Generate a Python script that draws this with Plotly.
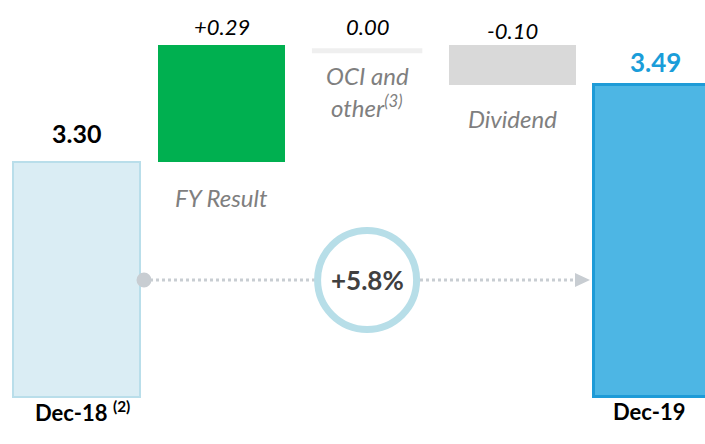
import plotly.graph_objects as go

# Equity bridge data
categories = ["Dec-18", "FY Result", "OCI and other", "Dividend", "Dec-19"]
start_value = 3.30
changes = [0.29, 0.00, -0.10]
end_value = 3.49
growth_label = "+5.8%"

value_labels = ["3.30", "+0.29", "0.00", "-0.10", "3.49"]
category_labels = ["Dec-18 <sup>(2)</sup>", "FY Result", ["OCI and", "other<sup>(3)</sup>"], "Dividend", "Dec-19"]

# Axis floor for the truncated value scale
FLOOR = 2.72

FONT = "Lato"
GREY_TXT = "#7F7F7F"

# Running totals for the floating bars
levels = [start_value]
for c in changes:
    levels.append(levels[-1] + c)

xs = list(range(len(categories)))
bases = [FLOOR] + levels[:-1] + [FLOOR]
heights = [start_value - FLOOR] + changes + [end_value - FLOOR]
tops = [start_value] + [max(b, b + h) for b, h in zip(levels[:-1], changes)] + [end_value]
bottoms = [FLOOR] + [min(b, b + h) for b, h in zip(levels[:-1], changes)] + [FLOOR]

fill = ["#DAEDF4", "#00B050", "#EFEFEF", "#D9D9D9", "#4DB6E4"]
edge = ["#B9DEEA", "#00B050", "#EFEFEF", "#D9D9D9", "#1E9BD7"]
edge_w = [2, 0, 0, 0, 3]
BW = 0.874
widths = [BW, BW, 0.76, BW, BW]

fig = go.Figure()
fig.add_trace(go.Bar(
    x=xs, y=heights, base=bases, width=widths,
    marker=dict(color=fill, line=dict(color=edge, width=edge_w)),
    hoverinfo="skip", showlegend=False,
))

annotations = []
# value labels
val_style = [
    dict(size=25, color="#000000", family=FONT, weight="bold"),
    dict(size=22, color="#000000", family=FONT, style="italic"),
    dict(size=22, color="#000000", family=FONT, style="italic"),
    dict(size=22, color="#000000", family=FONT, style="italic"),
    dict(size=26, color="#1A9DD9", family=FONT, weight="bold"),
]
val_shift = [29, 18, 18, 14, 23]
val_xshift = [0, 0, 0, 0, -2]
for i in xs:
    annotations.append(dict(
        x=i, y=tops[i], text=value_labels[i], showarrow=False,
        yanchor="middle", yshift=val_shift[i], xshift=val_xshift[i], font=val_style[i]))

# category labels under the floating bars
cat_font = dict(size=24, color=GREY_TXT, family=FONT, style="italic")
annotations.append(dict(x=1, y=bottoms[1], text=category_labels[1], showarrow=False,
                        yanchor="middle", yshift=-35, font=cat_font))
for k, line in enumerate(category_labels[2]):
    annotations.append(dict(x=2, y=bottoms[2], text=line, showarrow=False,
                            yanchor="middle", yshift=-31 - 30 * k, font=cat_font))
annotations.append(dict(x=3, y=bottoms[3], text=category_labels[3], showarrow=False,
                        yanchor="middle", yshift=-33, font=cat_font))

# period labels below the axis floor
annotations.append(dict(x=0, y=FLOOR, text=category_labels[0], showarrow=False,
                        yanchor="middle", yshift=-14, xshift=6,
                        font=dict(size=22, color="#000000", family=FONT, weight="bold")))
annotations.append(dict(x=4, y=FLOOR, text=category_labels[4], showarrow=False,
                        yanchor="middle", yshift=-14, xshift=-8,
                        font=dict(size=22, color="#000000", family=FONT, weight="bold")))

# growth badge
LINE_Y = 0.3694
annotations.append(dict(x=2, y=LINE_Y, yref="paper", text=f"<b>{growth_label}</b>", showarrow=False,
                        yanchor="middle", font=dict(size=26, color="#404040", family=FONT)))

DOT_GREY = "#C8CDD2"
shapes = [
    # zero-change marker
    dict(type="line", xref="x", yref="y", x0=2 - widths[2] / 2, x1=2 + widths[2] / 2,
         y0=levels[2] - 0.015, y1=levels[2] - 0.015, line=dict(color="#EFEFEF", width=5)),
    # dotted growth connector
    dict(type="line", xref="x", yref="paper", x0=0.4646, x1=3.44, y0=LINE_Y, y1=LINE_Y,
         line=dict(color=DOT_GREY, width=3, dash="dot")),
    # ring around growth label
    dict(type="circle", xref="x", yref="paper", xsizemode="pixel", ysizemode="pixel",
         xanchor=2, yanchor=LINE_Y, x0=-49.5, x1=49.5, y0=-49.5, y1=49.5,
         fillcolor="white", line=dict(color="#B7DEE8", width=7)),
    # start dot
    dict(type="circle", xref="x", yref="paper", xsizemode="pixel", ysizemode="pixel",
         xanchor=0.4646, yanchor=LINE_Y, x0=-7.5, x1=7.5, y0=-7.5, y1=7.5,
         fillcolor=DOT_GREY, line=dict(width=0)),
    # arrow head
    dict(type="path", xref="x", yref="paper", xsizemode="pixel", ysizemode="pixel",
         xanchor=3.534, yanchor=LINE_Y, path="M0,0 L-15,7 L-15,-7 Z",
         fillcolor=DOT_GREY, line=dict(width=0)),
]

fig.update_layout(
    width=705, height=444,
    margin=dict(l=0, r=0, t=0, b=0),
    paper_bgcolor="white", plot_bgcolor="white",
    xaxis=dict(range=[-0.5265, 4.3255], visible=False, fixedrange=True),
    yaxis=dict(range=[2.604, 3.700], visible=False, fixedrange=True),
    annotations=annotations, shapes=shapes,
    bargap=0, showlegend=False,
)

fig.write_html("out.html")
